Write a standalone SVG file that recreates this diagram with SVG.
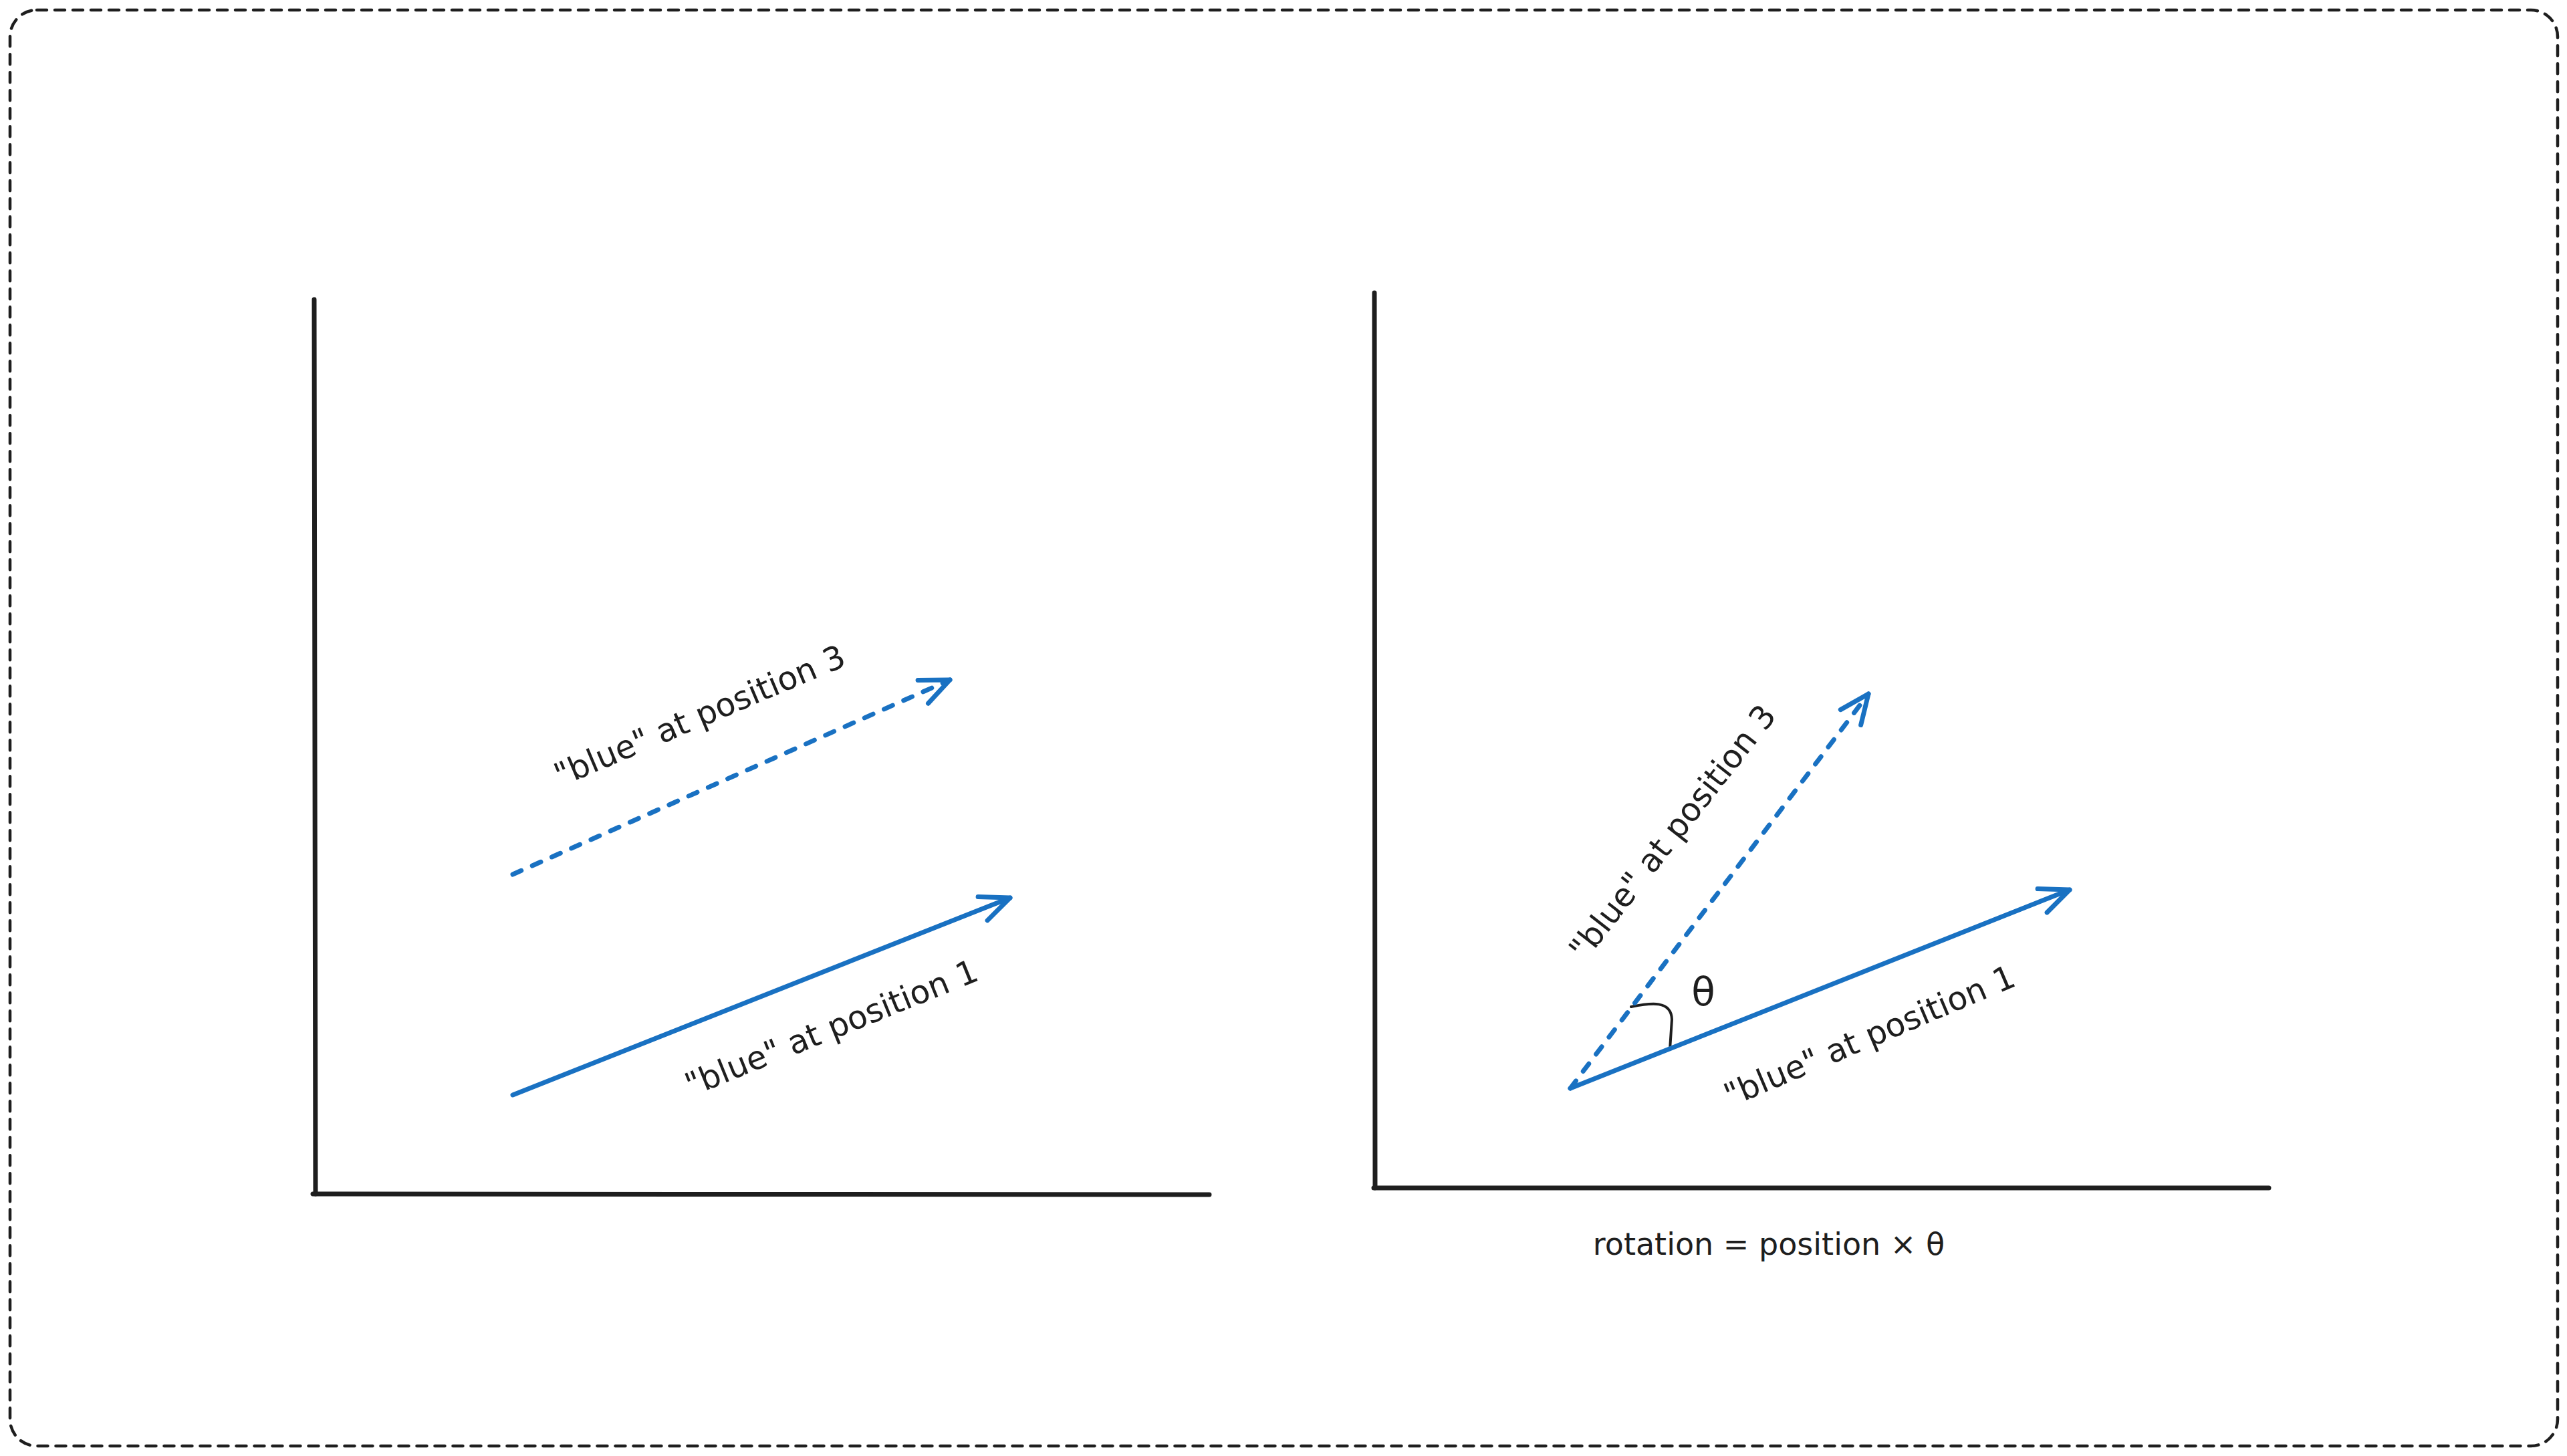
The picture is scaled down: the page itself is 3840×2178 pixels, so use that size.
<svg xmlns="http://www.w3.org/2000/svg" width="3840" height="2178" viewBox="0 0 3840 2178">
<style>
.frame{fill:none;stroke:#1e1e1e;stroke-width:4.5;stroke-dasharray:15 12;stroke-linecap:round}
.axis{fill:none;stroke:#1e1e1e;stroke-width:7;stroke-linecap:round}
.vec{fill:none;stroke:#1971c2;stroke-width:7;stroke-linecap:round}
.dash{stroke-dasharray:14 18}
.lbl{font-family:"DejaVu Sans",sans-serif;font-size:48.5px;fill:#1e1e1e;text-anchor:middle}
.arc{fill:none;stroke:#1e1e1e;stroke-width:4;stroke-linecap:round}
</style>
<defs>
<marker id="ah" markerUnits="userSpaceOnUse" orient="auto" markerWidth="120" markerHeight="120" refX="0" refY="0" viewBox="-60 -60 120 120" overflow="visible">
<path d="M-44,-19 L0,0 L-44,19" fill="none" stroke="#1971c2" stroke-width="7" stroke-linecap="round" stroke-linejoin="round" stroke-dasharray="none"/>
</marker>
</defs>
<rect width="3840" height="2178" fill="#ffffff"/>
<rect id="frame" class="frame" x="15" y="15" width="3811" height="2148" rx="40" ry="40"/>
<g id="left-panel">
<path class="axis" d="M470,448 L472,1786"/>
<path class="axis" d="M468,1786 L1809,1787"/>
</g>
<g id="right-panel">
<path class="axis" d="M2056,438 L2057,1777"/>
<path class="axis" d="M2055,1777 L3394,1777"/>
<path id="angle-mark" class="arc" d="M2440,1506 C2470,1500 2500,1496 2501,1525 L2498,1570"/>
</g>
<g id="connectors">
<line class="vec dash" x1="767" y1="1308" x2="1421" y2="1017" marker-end="url(#ah)"/>
<line class="vec" x1="767" y1="1638" x2="1511" y2="1343" marker-end="url(#ah)"/>
<line class="vec dash" x1="2349" y1="1628" x2="2795" y2="1038" marker-end="url(#ah)"/>
<line class="vec" x1="2349" y1="1628" x2="3096" y2="1331" marker-end="url(#ah)"/>
</g>
<g id="labels">
<text class="lbl" transform="translate(1053,1086) rotate(-23)">"blue" at position 3</text>
<text class="lbl" transform="translate(1250,1553) rotate(-22)">"blue" at position 1</text>
<text class="lbl" transform="translate(2515,1255) rotate(-52)">"blue" at position 3</text>
<text class="lbl" transform="translate(2803,1565) rotate(-23)">"blue" at position 1</text>
<text class="lbl" x="2548" y="1504" style="font-size:58px">θ</text>
<text class="lbl" x="2646" y="1877" style="font-size:46px">rotation = position × θ</text>
</g>
</svg>
